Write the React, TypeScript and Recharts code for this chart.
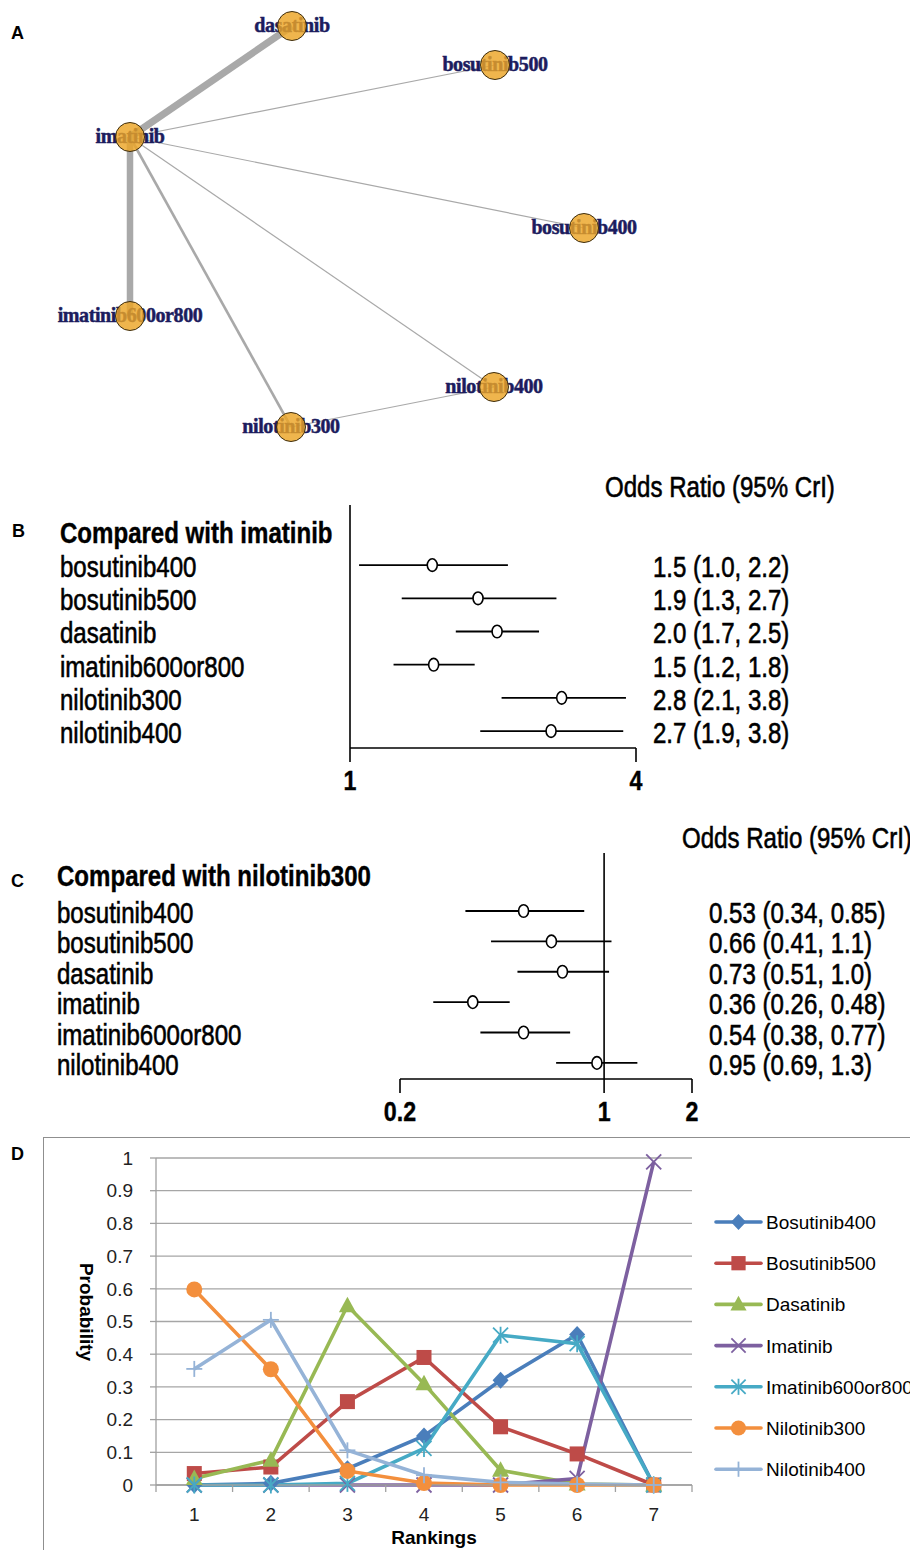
import React from "react";
import {
  ScatterChart,
  Scatter,
  XAxis,
  YAxis,
  ErrorBar,
  ReferenceLine,
  LineChart,
  Line,
  CartesianGrid,
} from "recharts";

// ---------- panel A: network ----------
const nodeNames = ["dasatinib", "bosutinib500", "imatinib", "bosutinib400", "imatinib600or800", "nilotinib400", "nilotinib300"];
const nodeX = [292, 495, 130, 584, 130, 494, 291];
const nodeY = [26, 65, 137, 228, 316, 387, 427];

const edgeFrom = ["imatinib", "imatinib", "imatinib", "imatinib", "imatinib", "imatinib", "nilotinib300"];
const edgeTo = ["dasatinib", "bosutinib500", "bosutinib400", "imatinib600or800", "nilotinib300", "nilotinib400", "nilotinib400"];
const edgeWeight = [7, 1.2, 1.2, 6.5, 2.6, 1.2, 1.2];

// ---------- panel B: compared with imatinib ----------
const bNames = ["bosutinib400", "bosutinib500", "dasatinib", "imatinib600or800", "nilotinib300", "nilotinib400"];
const bOR = [1.49, 1.86, 2.04, 1.5, 2.79, 2.65];
const bLow = [1.045, 1.285, 1.67, 1.235, 2.085, 1.88];
const bHigh = [2.15, 2.72, 2.5, 1.83, 3.81, 3.76];
const bLabels = ["1.5 (1.0, 2.2)", "1.9 (1.3, 2.7)", "2.0 (1.7, 2.5)", "1.5 (1.2, 1.8)", "2.8 (2.1, 3.8)", "2.7 (1.9, 3.8)"];
const bTicks = [1, 4];

// ---------- panel C: compared with nilotinib300 ----------
const cNames = ["bosutinib400", "bosutinib500", "dasatinib", "imatinib", "imatinib600or800", "nilotinib400"];
const cOR = [0.53, 0.66, 0.72, 0.355, 0.53, 0.945];
const cLow = [0.335, 0.41, 0.505, 0.26, 0.377, 0.685];
const cHigh = [0.855, 1.06, 1.04, 0.475, 0.765, 1.3];
const cLabels = ["0.53 (0.34, 0.85)", "0.66 (0.41, 1.1)", "0.73 (0.51, 1.0)", "0.36 (0.26, 0.48)", "0.54 (0.38, 0.77)", "0.95 (0.69, 1.3)"];
const cTicks = [0.2, 1, 2];

// ---------- panel D: rank probabilities ----------
const rankings = [1, 2, 3, 4, 5, 6, 7];
const seriesNames = ["Bosutinib400", "Bosutinib500", "Dasatinib", "Imatinib", "Imatinib600or800", "Nilotinib300", "Nilotinib400"];
const bosutinib400 = [0, 0.005, 0.05, 0.15, 0.32, 0.46, 0];
const bosutinib500 = [0.035, 0.055, 0.255, 0.39, 0.178, 0.095, 0];
const dasatinibP = [0.02, 0.076, 0.548, 0.31, 0.045, 0.003, 0];
const imatinibP = [0, 0, 0, 0, 0, 0.02, 0.988];
const imatinib600or800 = [0, 0, 0.005, 0.112, 0.458, 0.432, 0];
const nilotinib300 = [0.598, 0.354, 0.043, 0.006, 0, 0, 0];
const nilotinib400 = [0.355, 0.505, 0.106, 0.03, 0.008, 0.003, 0];
const probTicks = [0, 0.1, 0.2, 0.3, 0.4, 0.5, 0.6, 0.7, 0.8, 0.9, 1];
const rankTicks = [0.5, 1, 1.5, 2, 2.5, 3, 3.5, 4, 4.5, 5, 5.5, 6, 6.5, 7, 7.5];

const seriesValues = [bosutinib400, bosutinib500, dasatinibP, imatinibP, imatinib600or800, nilotinib300, nilotinib400];
const seriesColors = ["#4A7EBB", "#BE4B48", "#98B954", "#7D60A0", "#46AAC5", "#F38F3D", "#95B3D7"];
const seriesMarkers = ["diamond", "square", "triangle", "x", "star", "circle", "plus"];

const SANS = "'Liberation Sans', Arial, sans-serif";
const SERIF = "'Liberation Serif', 'Times New Roman', serif";
const NARROW = 0.83;

const nodes = nodeNames.map((name, i) => ({ name, x: nodeX[i], y: nodeY[i] }));
const nodeByName = (n: string) => nodes[nodeNames.indexOf(n)];

const rankData = rankings.map((rank, i) => {
  const row: Record<string, number> = { rank };
  seriesNames.forEach((s, k) => {
    row[s] = seriesValues[k][i];
  });
  return row;
});

const NoShape = () => <g />;

const NodeShape = (p: any) => {
  const { cx, cy, payload } = p;
  return (
    <g>
      <text
        x={cx}
        y={cy + 6}
        textAnchor="middle"
        fontFamily={SERIF}
        fontWeight="bold"
        fontSize={20}
        letterSpacing={-0.4}
        fill="#1c1c5e"
        stroke="#1c1c5e"
        strokeWidth={0.5}
      >
        {payload.name}
      </text>
      <circle cx={cx} cy={cy} r={14.5} fill="#EBA526" fillOpacity={0.82} stroke="#3d2c0c" strokeWidth={1} />
    </g>
  );
};

const Ring = (p: any) => (
  <ellipse cx={p.cx} cy={p.cy} rx={5} ry={6.3} fill="#fff" stroke="#000" strokeWidth={1.6} />
);

const narrowText = (x: number, y: number, txt: string, size: number, bold = false, anchor = "start") => (
  <g transform={`translate(${x},${y}) scale(${NARROW},1)`}>
    <text
      x={0}
      y={0}
      fontFamily={SANS}
      fontSize={size}
      fontWeight={bold ? "bold" : "normal"}
      textAnchor={anchor}
      fill="#000"
      stroke="#000"
      strokeWidth={bold ? 0.4 : 0.6}
    >
      {txt}
    </text>
  </g>
);

const rowTick = (names: string[], labels: string[], nameX: number, valueX: number) => (p: any) => {
  const i = p.payload.value;
  return (
    <g>
      {narrowText(nameX, p.y + 12, names[i], 29)}
      {narrowText(valueX, p.y + 12, labels[i], 29)}
    </g>
  );
};

const orTick = (p: any) => narrowText(p.x, p.y + 28, String(p.payload.value), 28, true, "middle");

function Forest(props: {
  names: string[];
  or: number[];
  low: number[];
  high: number[];
  labels: string[];
  ticks: number[];
  margin: { top: number; right: number; bottom: number; left: number };
  height: number;
  axisWidth: number;
  rowDomain: [number, number];
  nameX: number;
  valueX: number;
  showAxisLine: boolean;
  refAtOne: boolean;
}) {
  const data = props.names.map((n, i) => ({
    row: i,
    or: props.or[i],
    err: [props.or[i] - props.low[i], props.high[i] - props.or[i]],
  }));
  const rows = props.names.map((n, i) => i);
  return (
    <ScatterChart width={910} height={props.height} margin={props.margin}>
      <XAxis
        type="number"
        dataKey="or"
        scale="log"
        domain={[props.ticks[0], props.ticks[props.ticks.length - 1]]}
        allowDataOverflow
        ticks={props.ticks}
        interval={0}
        height={45}
        tickSize={14}
        tickMargin={0}
        axisLine={{ stroke: "#000", strokeWidth: 1.6 }}
        tickLine={{ stroke: "#000", strokeWidth: 1.6 }}
        tick={orTick}
      />
      <YAxis
        type="number"
        dataKey="row"
        domain={props.rowDomain}
        allowDataOverflow
        reversed
        ticks={rows}
        interval={0}
        width={props.axisWidth}
        axisLine={props.showAxisLine ? { stroke: "#000", strokeWidth: 1.6 } : false}
        tickLine={false}
        tick={rowTick(props.names, props.labels, props.nameX, props.valueX)}
      />
      {props.refAtOne && <ReferenceLine x={1} stroke="#000" strokeWidth={1.6} />}
      <Scatter data={data} shape={Ring} isAnimationActive={false}>
        <ErrorBar dataKey="err" direction="x" width={0} stroke="#000" strokeWidth={1.8} isAnimationActive={false} />
      </Scatter>
    </ScatterChart>
  );
}

function Marker({ kind, cx, cy, color, s = 1 }: { kind: string; cx: number; cy: number; color: string; s?: number }) {
  if (cx == null || cy == null) return null;
  switch (kind) {
    case "diamond":
      return <polygon points={`${cx},${cy - 8.5 * s} ${cx + 8 * s},${cy} ${cx},${cy + 8.5 * s} ${cx - 8 * s},${cy}`} fill={color} />;
    case "square":
      return <rect x={cx - 7.5 * s} y={cy - 7.5 * s} width={15 * s} height={15 * s} fill={color} />;
    case "triangle":
      return <polygon points={`${cx},${cy - 9 * s} ${cx + 8.5 * s},${cy + 6.5 * s} ${cx - 8.5 * s},${cy + 6.5 * s}`} fill={color} />;
    case "x":
      return (
        <g stroke={color} strokeWidth={1.8}>
          <line x1={cx - 7.5 * s} y1={cy - 7.5 * s} x2={cx + 7.5 * s} y2={cy + 7.5 * s} />
          <line x1={cx - 7.5 * s} y1={cy + 7.5 * s} x2={cx + 7.5 * s} y2={cy - 7.5 * s} />
        </g>
      );
    case "star":
      return (
        <g stroke={color} strokeWidth={1.8}>
          <line x1={cx - 7.5 * s} y1={cy - 7.5 * s} x2={cx + 7.5 * s} y2={cy + 7.5 * s} />
          <line x1={cx - 7.5 * s} y1={cy + 7.5 * s} x2={cx + 7.5 * s} y2={cy - 7.5 * s} />
          <line x1={cx} y1={cy - 8.5 * s} x2={cx} y2={cy + 8.5 * s} />
        </g>
      );
    case "circle":
      return <circle cx={cx} cy={cy} r={8 * s} fill={color} />;
    default:
      return (
        <g stroke={color} strokeWidth={1.8}>
          <line x1={cx - 8 * s} y1={cy} x2={cx + 8 * s} y2={cy} />
          <line x1={cx} y1={cy - 8 * s} x2={cx} y2={cy + 8 * s} />
        </g>
      );
  }
}

const rankTick = (p: any) => {
  const v = p.payload.value;
  if (Number.isInteger(v)) {
    return (
      <text x={p.x} y={p.y + 36} textAnchor="middle" fontFamily={SANS} fontSize={19} fill="#222">
        {v}
      </text>
    );
  }
  return <line x1={p.x} y1={p.y} x2={p.x} y2={p.y + 7} stroke="#a0a0a0" strokeWidth={1.3} />;
};

export default function App() {
  return (
    <div style={{ position: "absolute", left: 0, top: 0, width: 910, height: 1550, overflow: "hidden", background: "#fff" }}>
      {/* A */}
      <div style={{ position: "absolute", left: 0, top: 0 }}>
        <ScatterChart width={910} height={460} margin={{ top: 0, right: 0, bottom: 0, left: 0 }}>
          <XAxis type="number" dataKey="x" domain={[0, 910]} allowDataOverflow hide />
          <YAxis type="number" dataKey="y" domain={[0, 460]} allowDataOverflow reversed hide />
          {edgeFrom.map((f, i) => (
            <Scatter
              key={`edge-${i}`}
              data={[nodeByName(f), nodeByName(edgeTo[i])]}
              line={{ stroke: "#a9a9a9", strokeWidth: edgeWeight[i] }}
              shape={NoShape}
              isAnimationActive={false}
            />
          ))}
          <Scatter data={nodes} shape={NodeShape} isAnimationActive={false} />
        </ScatterChart>
      </div>

      {/* B */}
      <div style={{ position: "absolute", left: 0, top: 470 }}>
        <Forest
          names={bNames}
          or={bOR}
          low={bLow}
          high={bHigh}
          labels={bLabels}
          ticks={bTicks}
          height={330}
          margin={{ top: 35, right: 274, bottom: 7, left: 0 }}
          axisWidth={350}
          rowDomain={[-1.81, 5.51]}
          nameX={60}
          valueX={653}
          showAxisLine
          refAtOne={false}
        />
      </div>

      {/* C */}
      <div style={{ position: "absolute", left: 0, top: 840 }}>
        <Forest
          names={cNames}
          or={cOR}
          low={cLow}
          high={cHigh}
          labels={cLabels}
          ticks={cTicks}
          height={290}
          margin={{ top: 13, right: 218, bottom: 6, left: 0 }}
          axisWidth={400}
          rowDomain={[-1.91, 5.53]}
          nameX={57}
          valueX={709}
          showAxisLine={false}
          refAtOne
        />
      </div>

      {/* D */}
      <div
        style={{
          position: "absolute",
          left: 43,
          top: 1137,
          width: 900,
          height: 450,
          border: "1.5px solid #8f8f8f",
          boxSizing: "border-box",
        }}
      />
      <div style={{ position: "absolute", left: 0, top: 1135 }}>
        <LineChart width={910} height={415} data={rankData} margin={{ top: 23, right: 218, bottom: 35, left: 0 }}>
          <CartesianGrid vertical={false} stroke="#a6a6a6" strokeWidth={1.3} />
          <XAxis
            type="number"
            dataKey="rank"
            domain={[0.5, 7.5]}
            allowDataOverflow
            ticks={rankTicks}
            interval={0}
            height={30}
            tickSize={0}
            tickMargin={0}
            tickLine={false}
            axisLine={{ stroke: "#a0a0a0", strokeWidth: 1.3 }}
            tick={rankTick}
          />
          <YAxis
            type="number"
            domain={[0, 1]}
            ticks={probTicks}
            interval={0}
            width={156}
            tickSize={6}
            tickMargin={17}
            axisLine={{ stroke: "#a0a0a0", strokeWidth: 1.3 }}
            tickLine={{ stroke: "#a0a0a0", strokeWidth: 1.3 }}
            tick={{ fontFamily: SANS, fontSize: 19, fill: "#222" }}
          />
          {seriesNames.map((s, k) => (
            <Line
              key={s}
              type="linear"
              dataKey={s}
              stroke={seriesColors[k]}
              strokeWidth={3.6}
              isAnimationActive={false}
              dot={(p: any) => <Marker key={`${s}-${p.index}`} kind={seriesMarkers[k]} cx={p.cx} cy={p.cy} color={seriesColors[k]} />}
              activeDot={false}
            />
          ))}
        </LineChart>
      </div>

      {/* static text + legend */}
      <svg width={910} height={1550} style={{ position: "absolute", left: 0, top: 0, pointerEvents: "none" }}>
        <g fontFamily={SANS} fontWeight="bold" fontSize={18} fill="#000">
          <text x={11} y={39}>A</text>
          <text x={12} y={537}>B</text>
          <text x={11} y={887}>C</text>
          <text x={11} y={1160}>D</text>
        </g>
        {narrowText(60, 543, "Compared with imatinib", 29, true)}
        {narrowText(605, 497, "Odds Ratio (95% CrI)", 29)}
        {narrowText(57, 886, "Compared with nilotinib300", 29, true)}
        {narrowText(682, 848, "Odds Ratio (95% CrI)", 29)}
        <text x={434} y={1544} textAnchor="middle" fontFamily={SANS} fontWeight="bold" fontSize={19} fill="#000">
          Rankings
        </text>
        <text
          transform="translate(80,1312) rotate(90)"
          textAnchor="middle"
          fontFamily={SANS}
          fontWeight="bold"
          fontSize={19}
          fill="#000"
        >
          Probability
        </text>
        {seriesNames.map((s, k) => {
          const y = 1222 + 41.2 * k;
          return (
            <g key={`lg-${s}`}>
              <line x1={716} y1={y} x2={761} y2={y} stroke={seriesColors[k]} strokeWidth={3.6} strokeLinecap="round" />
              <Marker kind={seriesMarkers[k]} cx={738.5} cy={y} color={seriesColors[k]} s={0.95} />
              <text x={766} y={y + 7} fontFamily={SANS} fontSize={19} fill="#000">
                {s}
              </text>
            </g>
          );
        })}
      </svg>
    </div>
  );
}
